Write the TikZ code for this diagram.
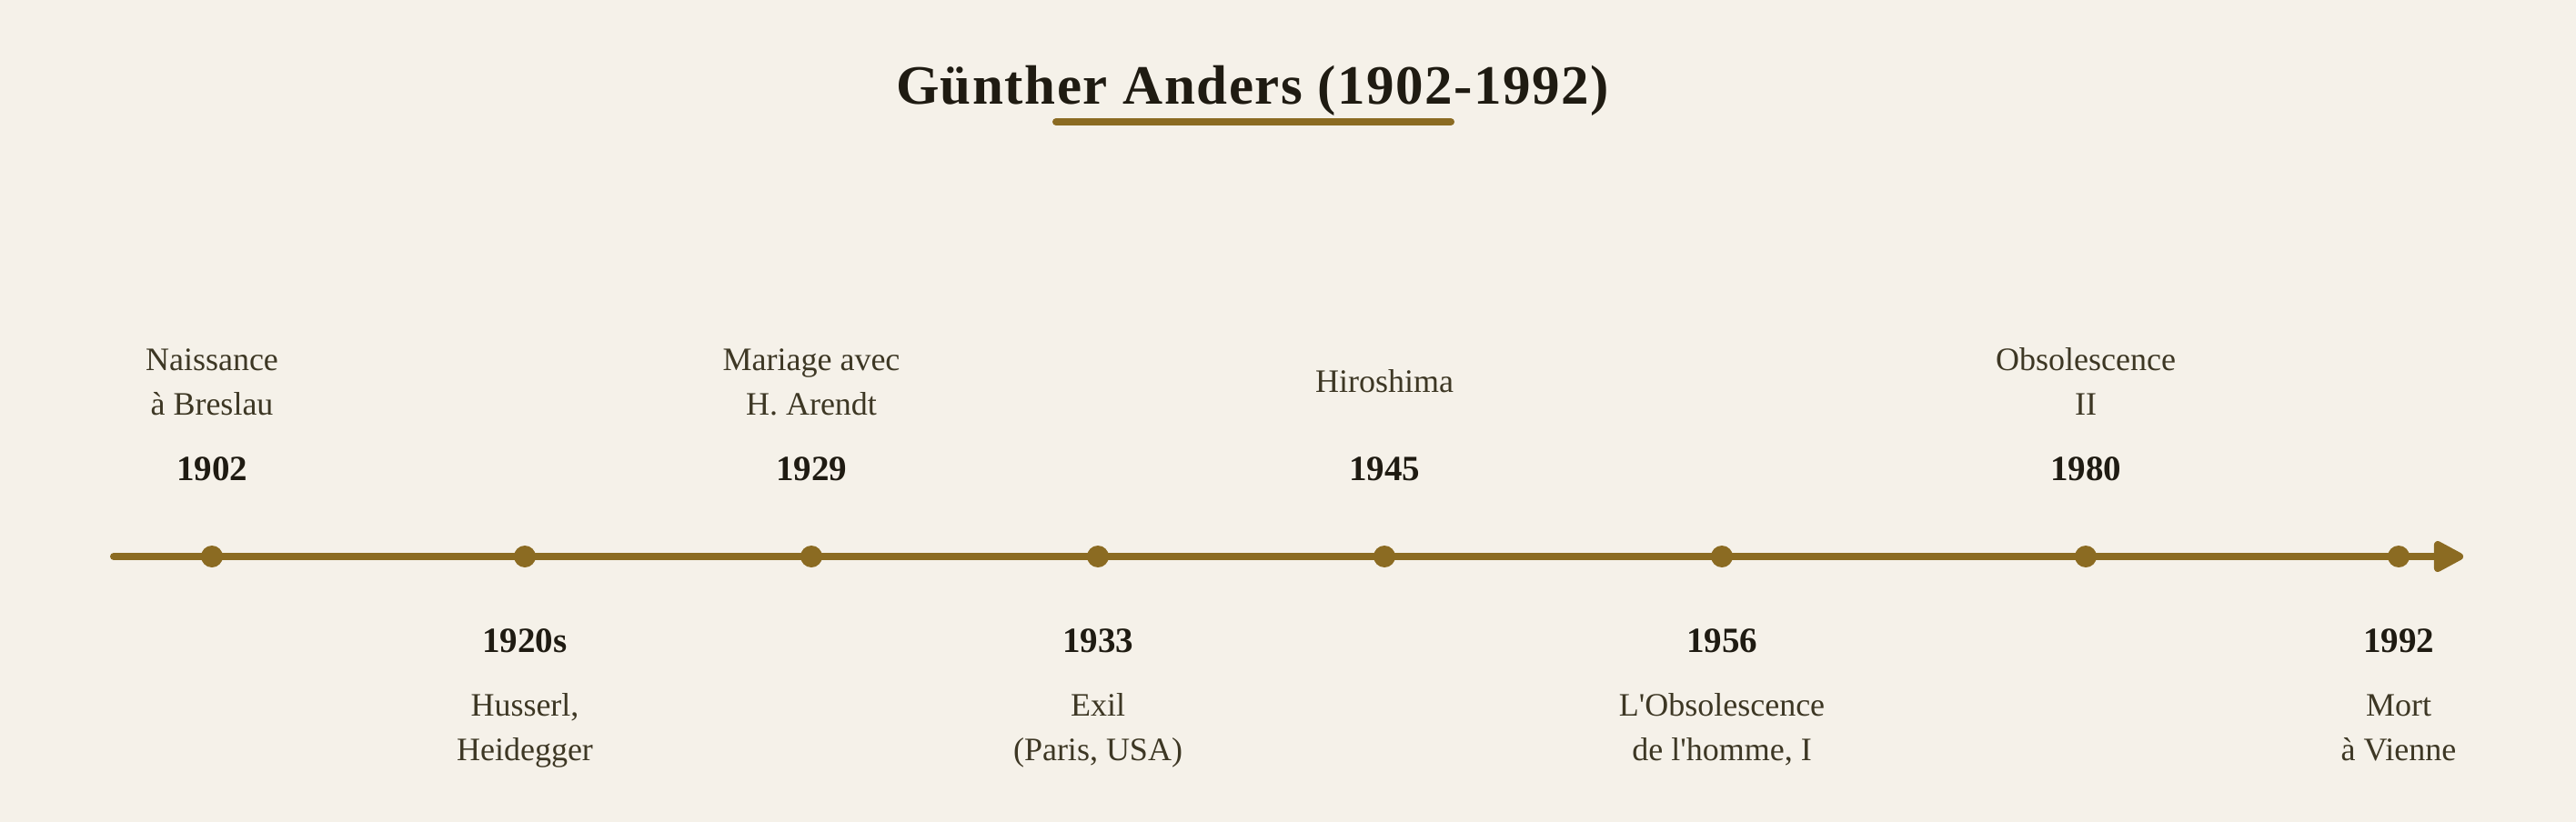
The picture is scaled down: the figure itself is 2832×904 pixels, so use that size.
\documentclass[tikz,border=0pt]{standalone}
\usepackage{fontspec}
\setmainfont{Liberation Serif}
\usetikzlibrary{arrows.meta}
\definecolor{bg}{HTML}{F5F1E9}
\definecolor{gold}{HTML}{8B6B22}
\definecolor{ink}{HTML}{1F1B12}
\definecolor{lbl}{HTML}{3D3724}
\begin{document}
\begin{tikzpicture}[x=1pt,y=-1pt,
 evt/.style={anchor=base,text=lbl,font=\fontsize{36}{44}\selectfont,inner sep=0pt},
 yr/.style={anchor=base,text=ink,font=\bfseries\fontsize{39}{44}\selectfont,inner sep=0pt},
 dotnode/.style={circle,fill=gold,minimum size=24pt,inner sep=0pt},
 goldline/.style={gold,line width=8pt,line cap=round}]
\fill[bg] (0,0) rectangle (2832,904);
\useasboundingbox (0,0) rectangle (2832,904);
% title
\node[anchor=base,text=ink,font=\bfseries\fontsize{61}{70}\selectfont\addfontfeatures{LetterSpace=2.5},inner sep=0pt] (title) at (1377,115) {Günther Anders (1902-1992)};
\coordinate (ulA) at (1161,134);
\coordinate (ulB) at (1595,134);
\draw[goldline] (ulA) -- (ulB);
% timeline
\coordinate (tlA) at (125,612);
\coordinate (tlB) at (2708,612);
\draw[goldline,-{Triangle[length=37pt,width=37pt,round]}] (tlA) -- (tlB);
% dots
\node[dotnode] (d1902) at (233,612) {};
\node[dotnode] (d1920) at (577,612) {};
\node[dotnode] (d1929) at (892,612) {};
\node[dotnode] (d1933) at (1207,612) {};
\node[dotnode] (d1945) at (1522,612) {};
\node[dotnode] (d1956) at (1893,612) {};
\node[dotnode] (d1980) at (2293,612) {};
\node[dotnode] (d1992) at (2637,612) {};
% above
\node[evt] (e1902a) at (233,407) {Naissance};
\node[evt] (e1902b) at (233,456) {à Breslau};
\node[yr] (y1902) at (233,528) {1902};
\node[evt] (e1929a) at (892,407) {Mariage avec};
\node[evt] (e1929b) at (892,456) {H. Arendt};
\node[yr] (y1929) at (892,528) {1929};
\node[evt] (e1945) at (1522,431) {Hiroshima};
\node[yr] (y1945) at (1522,528) {1945};
\node[evt] (e1980a) at (2293,407) {Obsolescence};
\node[evt] (e1980b) at (2293,456) {II};
\node[yr] (y1980) at (2293,528) {1980};
% below
\node[yr] (y1920) at (577,717) {1920s};
\node[evt] (e1920a) at (577,787) {Husserl,};
\node[evt] (e1920b) at (577,836) {Heidegger};
\node[yr] (y1933) at (1207,717) {1933};
\node[evt] (e1933a) at (1207,787) {Exil};
\node[evt] (e1933b) at (1207,836) {(Paris, USA)};
\node[yr] (y1956) at (1893,717) {1956};
\node[evt] (e1956a) at (1893,787) {L\textquotesingle Obsolescence};
\node[evt] (e1956b) at (1893,836) {de l\textquotesingle homme, I};
\node[yr] (y1992) at (2637,717) {1992};
\node[evt] (e1992a) at (2637,787) {Mort};
\node[evt] (e1992b) at (2637,836) {à Vienne};
\end{tikzpicture}
\end{document}
